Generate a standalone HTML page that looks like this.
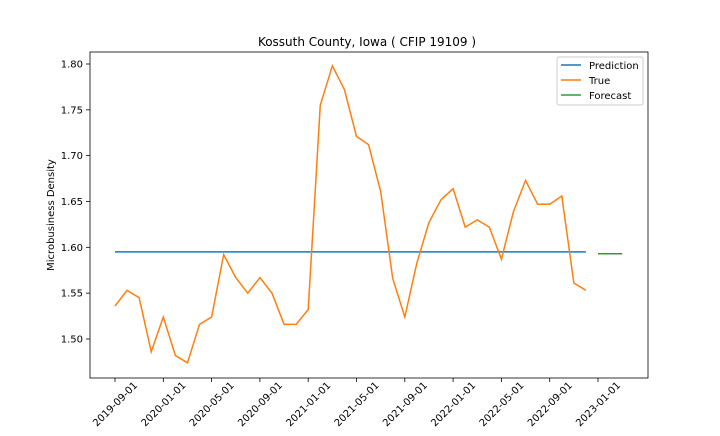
<!DOCTYPE html>
<html><head><meta charset="utf-8"><style>
body{margin:0;background:#fff;font-family:"DejaVu Sans","Liberation Sans",sans-serif}
svg text{font-family:"DejaVu Sans","Liberation Sans",sans-serif;font-size:10px;fill:#000}
</style></head><body>
<svg id="chart" width="720" height="432">
<rect x="0" y="0" width="720" height="432" fill="#fff"/>
<text x="367" y="46" text-anchor="middle" style="font-size:12px">Kossuth County, Iowa ( CFIP 19109 )</text>
<g id="grid"></g>
<g id="series"></g>
<rect x="90" y="52" width="558" height="326" fill="none" stroke="#000" stroke-width="0.8"/>
<g id="axes"></g>
<text transform="translate(54,215) rotate(-90)" text-anchor="middle">Microbusiness Density</text>
<g>
<rect x="557" y="57" width="86" height="48" rx="2" fill="#fff" stroke="#ccc"/>
<line x1="561" y1="65" x2="581" y2="65" stroke="#1f77b4" stroke-width="1.5"/>
<text x="589" y="69">Prediction</text>
<line x1="561" y1="80" x2="581" y2="80" stroke="#ff7f0e" stroke-width="1.5"/>
<text x="589" y="84">True</text>
<line x1="561" y1="95" x2="581" y2="95" stroke="#2ca02c" stroke-width="1.5"/>
<text x="589" y="99">Forecast</text>
</g>
</svg>
<script>
const trueValues=[1.536,1.553,1.545,1.486,1.524,1.482,1.474,1.516,1.524,1.592,1.567,1.550,1.567,1.550,1.516,1.516,1.532,1.755,1.798,1.772,1.721,1.712,1.661,1.566,1.524,1.583,1.627,1.652,1.664,1.622,1.630,1.622,1.587,1.639,1.673,1.647,1.647,1.656,1.561,1.553];
const predictionValue=[1.595];
const forecastValues=[1.593,1.593,1.593];
const yTicks=[1.50,1.55,1.60,1.65,1.70,1.75,1.80];
const xTickLabels=["2019-09-01","2020-01-01","2020-05-01","2020-09-01","2021-01-01","2021-05-01","2021-09-01","2022-01-01","2022-05-01","2022-09-01","2023-01-01"];
const xTickMonths=[0,4,8,12,16,20,24,28,32,36,40];
const NS="http://www.w3.org/2000/svg";
const x=m=>115+m*12.075;
const y=v=>64+(1.80-v)/0.05*45.83;
function mk(tag,attrs,parent){const e=document.createElementNS(NS,tag);for(const k in attrs)e.setAttribute(k,attrs[k]);document.getElementById(parent).appendChild(e);return e;}
yTicks.forEach(t=>{
 const l=mk('line',{x1:86,x2:90,y1:y(t),y2:y(t),stroke:'#000','stroke-width':0.8},'axes');
 
 
 const tx=mk('text',{x:83,y:y(t)+3.5,'text-anchor':'end'},'axes');tx.textContent=t.toFixed(2);
 
 
});
xTickMonths.forEach((m,i)=>{
 const l=mk('line',{x1:x(m),x2:x(m),y1:378,y2:382,stroke:'#000','stroke-width':0.8},'axes');
 
 
 const cx=x(m), cy=404;
 const tx=mk('text',{x:cx,y:cy+3.5,'text-anchor':'middle',transform:`rotate(-45 ${cx} ${cy})`},'axes');tx.textContent=xTickLabels[i];
 
 
});
const pred=mk('line',{x1:x(0),x2:x(trueValues.length-1),y1:y(predictionValue[0]),y2:y(predictionValue[0]),stroke:'#1f77b4','stroke-width':1.5},'series');


const tl=mk('polyline',{points:trueValues.map((v,i)=>x(i)+','+y(v)).join(' '),fill:'none',stroke:'#ff7f0e','stroke-width':1.5},'series');


const fl=mk('polyline',{points:forecastValues.map((v,i)=>x(40+i)+','+y(v)).join(' '),fill:'none',stroke:'#2ca02c','stroke-width':1.5},'series');


</script>
</body></html>
